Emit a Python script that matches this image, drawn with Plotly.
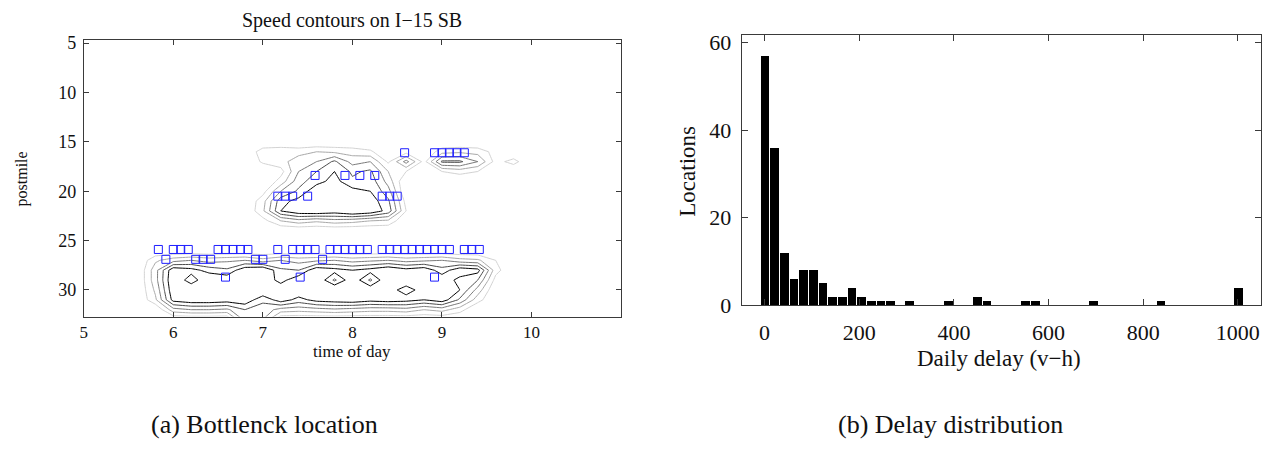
import plotly.graph_objects as go

W, H = 1271, 456
SERIF = "Liberation Serif, Times New Roman, serif"

# ---------------- (a) speed contours ----------------
time_grid = [5.6, 5.8, 6.0, 6.2, 6.4, 6.6, 6.8, 7.0, 7.2, 7.4, 7.6, 7.8,
             8.0, 8.2, 8.4, 8.6, 8.8, 9.0, 9.2, 9.4, 9.6, 9.8, 10.0]
postmile_grid = [15, 16, 17, 18, 19, 20, 21, 22, 23, 24, 25, 26, 27, 28, 29, 30, 31, 32, 33]
speed = [
    [65, 65, 65, 65, 65, 65, 65, 65, 65, 65, 65, 65, 65, 65, 65, 65, 65, 65, 65, 65, 65, 65, 65],
    [65, 65, 65, 65, 65, 65, 65, 57, 56, 57, 55, 56, 57, 59, 65, 62, 65, 57, 56, 57, 62, 65, 65],
    [65, 65, 65, 65, 65, 65, 65, 59, 57, 52, 50, 44, 52, 50, 61, 48, 62, 44, 44, 50, 62, 58, 65],
    [65, 65, 65, 65, 65, 65, 65, 65, 62, 50, 45, 40, 46, 44, 55, 60, 65, 60, 58, 60, 65, 65, 65],
    [65, 65, 65, 65, 65, 65, 65, 65, 58, 47, 42, 38, 44, 42, 52, 65, 65, 65, 65, 65, 65, 65, 65],
    [65, 65, 65, 65, 65, 65, 65, 62, 50, 44, 36, 40, 38, 40, 48, 65, 65, 65, 65, 65, 65, 65, 65],
    [65, 65, 65, 65, 65, 65, 65, 57, 42, 38, 34, 36, 35, 37, 44, 62, 65, 65, 65, 65, 65, 65, 65],
    [65, 65, 65, 65, 65, 65, 65, 56, 40, 36, 35, 37, 34, 36, 42, 60, 65, 65, 65, 65, 65, 65, 65],
    [65, 65, 65, 65, 65, 65, 65, 62, 55, 52, 54, 52, 53, 55, 56, 65, 65, 65, 65, 65, 65, 65, 65],
    [65, 65, 65, 65, 65, 65, 65, 65, 65, 65, 65, 65, 65, 65, 65, 65, 65, 65, 65, 65, 65, 65, 65],
    [65, 65, 65, 65, 65, 65, 65, 65, 65, 65, 65, 65, 65, 65, 65, 65, 65, 65, 65, 65, 65, 65, 65],
    [65, 65, 65, 65, 65, 65, 65, 65, 65, 65, 65, 65, 65, 65, 65, 65, 65, 65, 65, 65, 65, 65, 65],
    [65, 56, 52, 50, 52, 51, 50, 53, 50, 52, 51, 50, 52, 51, 50, 52, 51, 50, 53, 54, 60, 65, 65],
    [65, 52, 36, 38, 42, 44, 36, 34, 44, 45, 36, 38, 40, 38, 35, 38, 36, 43, 36, 38, 58, 65, 65],
    [65, 52, 35, 43, 35, 36, 38, 36, 42, 36, 35, 46, 36, 46, 35, 37, 34, 36, 42, 45, 62, 65, 65],
    [65, 54, 36, 35, 34, 38, 35, 34, 36, 35, 36, 34, 35, 36, 38, 42, 38, 35, 40, 52, 65, 65, 65],
    [65, 56, 38, 36, 36, 37, 36, 44, 37, 42, 38, 37, 36, 38, 37, 38, 40, 37, 46, 58, 65, 65, 65],
    [65, 65, 52, 50, 50, 51, 45, 47, 52, 53, 52, 51, 52, 53, 53, 52, 55, 53, 58, 65, 65, 65, 65],
    [65, 65, 65, 65, 65, 65, 48, 50, 65, 65, 65, 65, 65, 65, 65, 65, 65, 65, 65, 65, 65, 65, 65],
]

# bottleneck detections (postmile rows, times in hours)
bn_postmiles = [16.1, 18.4, 20.5, 25.9, 26.9, 28.7]
bn_times = [
    [8.583, 8.917, 9.0, 9.083, 9.167, 9.25],
    [7.583, 7.917, 8.083, 8.25],
    [7.167, 7.25, 7.333, 7.5, 8.333, 8.417, 8.5],
    [5.833, 6.0, 6.083, 6.167, 6.5, 6.583, 6.667, 6.75, 6.833, 7.167,
     7.333, 7.417, 7.5, 7.583, 7.75, 7.833, 7.917, 8.0, 8.083, 8.167,
     8.333, 8.417, 8.5, 8.583, 8.667, 8.75, 8.833, 8.917, 9.0, 9.083,
     9.25, 9.333, 9.417],
    [5.917, 6.25, 6.333, 6.417, 6.917, 7.0, 7.25, 7.667],
    [6.583, 7.417, 8.917],
]
a_xticks = [5, 6, 7, 8, 9, 10, 11]
a_xticklabels = ["5", "6", "7", "8", "9", "10", ""]
a_yticks = [5, 10, 15, 20, 25, 30]

# ---------------- (b) delay histogram ----------------
delay_bin_min, delay_bin_max, n_bins = 0, 1000, 50
location_counts = [57, 36, 12, 6, 8, 8, 5, 2, 2, 4,
                   2, 1, 1, 1, 0, 1, 0, 0, 0, 1,
                   0, 0, 2, 1, 0, 0, 0, 1, 1, 0,
                   0, 0, 0, 0, 1, 0, 0, 0, 0, 0,
                   0, 1, 0, 0, 0, 0, 0, 0, 0, 4]
b_xticks = [0, 200, 400, 600, 800, 1000]
b_yticks = [0, 20, 40, 60]

fig = go.Figure()

fig.add_trace(go.Contour(
    x=time_grid, y=postmile_grid, z=speed,
    xaxis="x", yaxis="y",
    autocontour=False,
    contours=dict(start=40, end=60, size=5, coloring="lines", showlabels=False),
    colorscale=[[0, "#000000"], [0.25, "#4a4a4a"], [0.5, "#7a7a7a"],
                [0.75, "#a8a8a8"], [1, "#d2d2d2"]],
    zmin=40, zmax=60,
    line=dict(width=1, smoothing=0),
    showscale=False, hoverinfo="skip",
))

mx, my = [], []
for pm, ts in zip(bn_postmiles, bn_times):
    for t in ts:
        mx.append(t)
        my.append(pm)
fig.add_trace(go.Scatter(
    x=mx, y=my, mode="markers", xaxis="x", yaxis="y",
    marker=dict(symbol="square-open", size=8, color="#1e1eff", line=dict(width=1)),
    showlegend=False, hoverinfo="skip",
))

bw = (delay_bin_max - delay_bin_min) / (n_bins - 1)
centers = [delay_bin_min + i * bw for i in range(n_bins)]
fig.add_trace(go.Bar(
    x=centers, y=location_counts, xaxis="x2", yaxis="y2",
    width=bw * 0.9, marker=dict(color="black", line=dict(width=0)),
    showlegend=False, hoverinfo="skip",
))

def px(v):
    return v / W

def py(v):
    return 1 - v / H

axis_common = dict(showgrid=False, zeroline=False, showline=True, mirror="allticks",
                   ticks="inside", linecolor="#3a3a3a", tickcolor="#3a3a3a")

fig.update_layout(
    width=W, height=H,
    margin=dict(l=0, r=0, t=0, b=0),
    paper_bgcolor="white", plot_bgcolor="white",
    showlegend=False,
    font=dict(family=SERIF, color="#111111"),
    bargap=0,
    xaxis=dict(domain=[px(80), px(619)], anchor="y", range=[5, 11],
               tickvals=a_xticks, ticktext=a_xticklabels, ticklen=5,
               tickfont=dict(size=17), ticklabelstandoff=0, **axis_common),
    yaxis=dict(domain=[py(324), py(35.5)], anchor="x", range=[32.69, 4.68],
               tickvals=a_yticks, ticklen=5, tickfont=dict(size=18),
               ticklabelstandoff=3, **axis_common),
    xaxis2=dict(domain=[px(740), px(1261)], anchor="y2", range=[-48.5, 1049],
                tickvals=b_xticks, ticklen=6, tickfont=dict(size=22),
                ticklabelstandoff=8, **axis_common),
    yaxis2=dict(domain=[py(312), py(30)], anchor="x2", range=[0, 61.8],
                tickvals=b_yticks, ticklen=6, tickfont=dict(size=22),
                ticklabelstandoff=5, **axis_common),
)

def ann(text, x, y, size, angle=0):
    fig.add_annotation(text=text, x=px(x), y=py(y), xref="paper", yref="paper",
                       showarrow=False, xanchor="center", yanchor="middle",
                       textangle=angle, borderpad=0,
                       font=dict(size=size, family=SERIF, color="#111111"))

ann("Speed contours on I\u221215 SB", 349, 15, 20)
ann("time of day", 349, 361, 17)
ann("postmile", 18, 180, 16, -90)
ann("Locations", 686, 172, 23, -90)
ann("Daily delay (v\u2212h)", 998, 368, 23)
ann("(a) Bottlenck location", 261, 437, 26)
ann("(b) Delay distribution", 949, 437, 26)

fig.write_html("out.html")
